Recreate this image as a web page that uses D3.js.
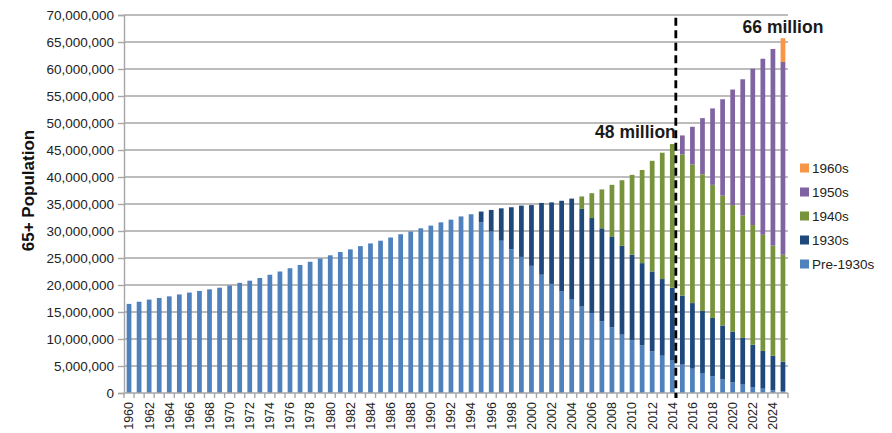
<!DOCTYPE html>
<html><head><meta charset="utf-8">
<script src="https://cdn.jsdelivr.net/npm/d3@7"></script>
<style>body{margin:0;background:#fff} svg{display:block}</style>
</head><body>
<svg id="c" width="892" height="433"></svg>
<script>
// ---- data (values in millions) ----
const years = [1960,1961,1962,1963,1964,1965,1966,1967,1968,1969,1970,1971,1972,1973,1974,1975,1976,1977,1978,1979,
  1980,1981,1982,1983,1984,1985,1986,1987,1988,1989,1990,1991,1992,1993,1994,1995,1996,1997,1998,1999,
  2000,2001,2002,2003,2004,2005,2006,2007,2008,2009,2010,2011,2012,2013,2014,2015,2016,2017,2018,2019,
  2020,2021,2022,2023,2024,2025];
const seriesNames = ["Pre-1930s","1930s","1940s","1950s","1960s"];
const seriesColors = ["#4F81BD","#1F497D","#77933C","#8064A2","#F79646"];

const pre1930s = [16.5,16.9,17.3,17.6,17.9,18.25,18.6,18.9,19.2,19.5,19.9,20.4,20.8,21.3,21.9,22.5,23.1,23.7,24.3,24.9,
  25.5,26.1,26.6,27.2,27.7,28.2,28.8,29.4,29.9,30.5,31.0,31.6,32.1,32.7,33.1,31.6,29.9,28.2,26.6,25.2,
  23.55,21.9,20.2,18.8,17.4,16.0,14.8,13.25,12.2,10.8,9.75,8.8,7.7,6.9,6.0,5.25,4.5,3.7,3.1,2.5,
  1.95,1.55,1.1,0.8,0.5,0.3];
const start1930s = 1995;
const c1930s = [2.0,4.0,6.0,7.8,9.5,11.25,13.3,15.1,16.8,18.6,18.1,17.6,17.25,16.7,16.45,15.85,15.25,14.8,14.2,13.5,
  12.8,12.15,11.5,10.8,10.0,9.4,8.65,7.85,7.0,6.4,5.5];
const start1940s = 2005;
const c1940s = [2.3,4.6,7.2,9.65,12.15,14.8,17.25,20.5,23.4,26.6,26.15,25.65,25.3,24.65,24.05,23.45,22.7,22.15,21.5,20.4,19.8];
const start1950s = 2015;
const c1950s = [3.5,7.0,10.4,14.15,17.85,21.4,25.2,28.95,32.6,36.4,35.7];
const start1960s = 2025;
const c1960s = [4.4];

const yTicks = [0,5e6,10e6,15e6,20e6,25e6,30e6,35e6,40e6,45e6,50e6,55e6,60e6,65e6,70e6];
const xLabelYears = years.filter(y => y % 2 === 0);
const annotations = [
  {year: 2014, value: 47.2e6, text: "48 million", anchor: "end"},
  {year: 2025, value: 66.7e6, text: "66 million", anchor: "middle"}
];
const dividerYear = 2014;

// ---- table ----
const M = 1e6;
const cohorts = [
  {key: "Pre-1930s", start: 1960, vals: pre1930s},
  {key: "1930s", start: start1930s, vals: c1930s},
  {key: "1940s", start: start1940s, vals: c1940s},
  {key: "1950s", start: start1950s, vals: c1950s},
  {key: "1960s", start: start1960s, vals: c1960s}
];
const table = years.map(yr => {
  const row = {year: yr};
  cohorts.forEach(c => {
    const i = yr - c.start;
    row[c.key] = (i >= 0 && i < c.vals.length) ? c.vals[i] * M : 0;
  });
  return row;
});

// ---- layout ----
const svg = d3.select("#c");
const margin = {left: 124, right: 104, top: 15, bottom: 40};
const W = 892 - margin.left - margin.right;
const H = 433 - margin.top - margin.bottom;
const g = svg.append("g").attr("transform", `translate(${margin.left},${margin.top})`);
const font = "'Liberation Sans', Arial, sans-serif";

const x = d3.scaleBand().domain(years).range([0, W]).paddingInner(0.53).paddingOuter(0.265);
const y = d3.scaleLinear().domain([0, 70e6]).range([H, 0]);
const step = x.step();

// gridlines
g.append("g").selectAll("line").data(yTicks.filter(t => t > 0)).join("line")
  .attr("x1", 0).attr("x2", W).attr("y1", d => y(d)).attr("y2", d => y(d))
  .attr("stroke", "#a6a6a6").attr("stroke-width", 1.4);

// bars
const stack = d3.stack().keys(seriesNames)(table);
g.append("g").selectAll("g").data(stack).join("g")
  .attr("fill", (d, i) => seriesColors[i])
  .selectAll("rect").data(d => d.filter(p => p[1] - p[0] > 0)).join("rect")
  .attr("x", d => x(d.data.year))
  .attr("width", x.bandwidth())
  .attr("y", d => y(d[1]))
  .attr("height", d => y(d[0]) - y(d[1]));

// y axis
const yAxis = g.append("g").call(d3.axisLeft(y).tickValues(yTicks).tickFormat(d3.format(",")).tickSize(6).tickPadding(4));
yAxis.select(".domain").attr("stroke", "#a6a6a6").attr("stroke-width", 1.4);
yAxis.selectAll(".tick line").attr("stroke", "#a6a6a6").attr("stroke-width", 1.4);
yAxis.selectAll("text").attr("font-family", font).attr("font-size", 13.5).attr("fill", "#222");

// x axis line + boundary ticks
const xa = g.append("g").attr("transform", `translate(0,${H})`);
xa.append("line").attr("x1", 0).attr("x2", W).attr("stroke", "#a6a6a6").attr("stroke-width", 1.4);
const bounds = years.map(yr => x(yr) - step * x.paddingInner() / 2).concat([W]);
xa.selectAll("line.tk").data(bounds).join("line").attr("class", "tk")
  .attr("x1", d => d).attr("x2", d => d).attr("y1", 0).attr("y2", 5)
  .attr("stroke", "#a6a6a6").attr("stroke-width", 1.4);
xa.selectAll("text").data(xLabelYears).join("text")
  .attr("transform", d => `translate(${x(d) + x.bandwidth() / 2},9) rotate(-90)`)
  .attr("text-anchor", "end").attr("dy", "0.35em")
  .attr("font-family", font).attr("font-size", 12.5).attr("fill", "#222")
  .text(d => d);

// divider
const dx = x(dividerYear) + step * 0.85 - step * x.paddingInner() / 2;
g.append("line").attr("x1", dx).attr("x2", dx).attr("y1", y(69.5e6)).attr("y2", H + 5)
  .attr("stroke", "#000").attr("stroke-width", 2.8).attr("stroke-dasharray", "8,4.5");

// annotations
g.selectAll("text.ann").data(annotations).join("text").attr("class", "ann")
  .attr("x", d => d.anchor === "end" ? dx : x(d.year) + x.bandwidth() / 2)
  .attr("y", d => y(d.value))
  .attr("text-anchor", d => d.anchor)
  .attr("font-family", font).attr("font-weight", "bold").attr("font-size", 17.5).attr("fill", "#1a1a1a")
  .text(d => d.text);

// y axis title
svg.append("text")
  .attr("transform", `translate(28,${margin.top + y(37.5e6)}) rotate(-90)`)
  .attr("text-anchor", "middle").attr("dy", "0.35em")
  .attr("font-family", font).attr("font-weight", "bold").attr("font-size", 17).attr("fill", "#111")
  .text("65+ Population");

// legend
const legend = svg.append("g").attr("transform", `translate(800,168)`);
const legendOrder = seriesNames.slice().reverse();
const li = legend.selectAll("g").data(legendOrder).join("g")
  .attr("transform", (d, i) => `translate(0,${i * 24})`);
li.append("rect").attr("x", 0).attr("y", -4.5).attr("width", 9).attr("height", 9)
  .attr("fill", d => seriesColors[seriesNames.indexOf(d)]);
li.append("text").attr("x", 12).attr("dy", "0.35em")
  .attr("font-family", font).attr("font-size", 13.5).attr("fill", "#222").text(d => d);
</script>
</body></html>
